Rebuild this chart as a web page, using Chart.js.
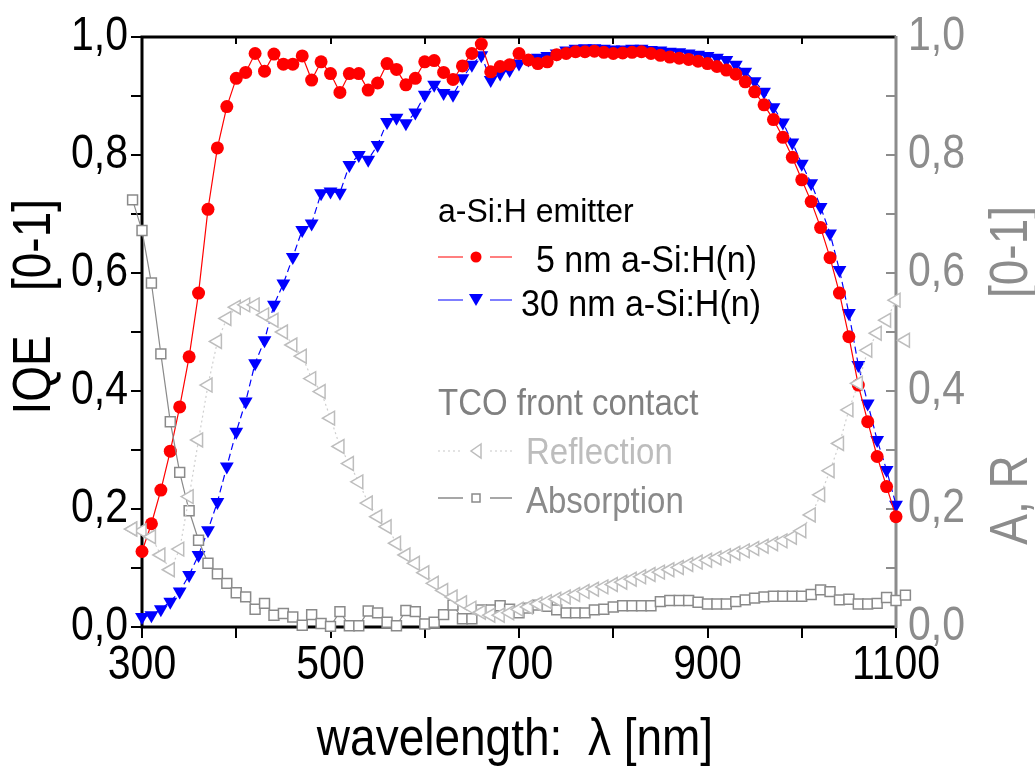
<!DOCTYPE html>
<html>
<head>
<meta charset="utf-8">
<script src="https://cdn.jsdelivr.net/npm/chart.js@4"></script>
<style>
  html, body { margin: 0; padding: 0; background: #fff; overflow: hidden; }
  canvas { display: block; }
</style>
</head>
<body>
<canvas id="iqeChart" width="1035" height="766"></canvas>
<script>
// ---------- dados ----------
const lambdaIQE = [300,310,320,330,340,350,360,370,380,390,400,410,420,430,440,450,460,470,480,490,500,510,520,530,540,550,560,570,580,590,600,610,620,630,640,650,660,670,680,690,700,710,720,730,740,750,760,770,780,790,800,810,820,830,840,850,860,870,880,890,900,910,920,930,940,950,960,970,980,990,1000,1010,1020,1030,1040,1050,1060,1070,1080,1090,1100];

const iqe5nm = [0.128,0.175,0.232,0.298,0.373,0.458,0.566,0.708,0.812,0.882,0.930,0.940,0.972,0.942,0.971,0.954,0.954,0.968,0.927,0.958,0.938,0.906,0.938,0.938,0.910,0.922,0.955,0.945,0.919,0.930,0.958,0.960,0.940,0.928,0.951,0.972,0.988,0.941,0.950,0.953,0.972,0.961,0.955,0.958,0.970,0.972,0.975,0.975,0.976,0.974,0.972,0.973,0.974,0.975,0.972,0.969,0.966,0.964,0.962,0.959,0.955,0.950,0.944,0.937,0.924,0.907,0.885,0.860,0.830,0.796,0.758,0.721,0.677,0.626,0.566,0.492,0.410,0.348,0.289,0.238,0.187];

const iqe30nm = [0.017,0.020,0.030,0.043,0.060,0.088,0.122,0.164,0.212,0.272,0.331,0.382,0.447,0.486,0.546,0.582,0.627,0.673,0.684,0.735,0.738,0.736,0.783,0.800,0.792,0.817,0.856,0.863,0.854,0.872,0.902,0.919,0.905,0.902,0.930,0.953,0.969,0.927,0.938,0.944,0.955,0.962,0.965,0.968,0.972,0.977,0.980,0.981,0.981,0.980,0.979,0.979,0.980,0.980,0.978,0.977,0.975,0.974,0.972,0.970,0.968,0.965,0.961,0.953,0.941,0.925,0.907,0.881,0.855,0.821,0.785,0.752,0.712,0.667,0.605,0.532,0.444,0.379,0.317,0.266,0.207];

const lambdaTCO = [290,300,310,320,330,340,350,360,370,380,390,400,410,420,430,440,450,460,470,480,490,500,510,520,530,540,550,560,570,580,590,600,610,620,630,640,650,660,670,680,690,700,710,720,730,740,750,760,770,780,790,800,810,820,830,840,850,860,870,880,890,900,910,920,930,940,950,960,970,980,990,1000,1010,1020,1030,1040,1050,1060,1070,1080,1090,1100,1110];

const reflexao = [0.166,0.163,0.153,0.122,0.097,0.132,0.221,0.317,0.410,0.484,0.523,0.542,0.546,0.546,0.529,0.520,0.500,0.478,0.459,0.421,0.399,0.354,0.306,0.277,0.246,0.210,0.187,0.170,0.142,0.122,0.108,0.092,0.074,0.062,0.051,0.041,0.032,0.025,0.020,0.020,0.024,0.030,0.034,0.039,0.043,0.047,0.051,0.055,0.060,0.064,0.068,0.072,0.076,0.081,0.085,0.089,0.093,0.097,0.101,0.106,0.110,0.113,0.117,0.121,0.125,0.129,0.133,0.137,0.141,0.146,0.152,0.163,0.190,0.224,0.265,0.311,0.368,0.413,0.469,0.498,0.520,0.554,0.486];

const absorcao = [0.724,0.672,0.583,0.463,0.348,0.262,0.197,0.147,0.108,0.090,0.074,0.058,0.051,0.030,0.040,0.020,0.023,0.017,0.003,0.021,0.006,0.001,0.026,0.002,0.002,0.027,0.024,0.008,0.002,0.028,0.026,0.005,0.008,0.021,0.037,0.014,0.014,0.029,0.029,0.036,0.030,0.024,0.032,0.037,0.035,0.029,0.024,0.024,0.024,0.029,0.030,0.034,0.036,0.036,0.036,0.036,0.043,0.045,0.045,0.045,0.042,0.039,0.039,0.039,0.043,0.046,0.049,0.051,0.052,0.052,0.052,0.052,0.055,0.063,0.060,0.046,0.047,0.039,0.039,0.040,0.050,0.045,0.054];

const yTicks = [0, 0.2, 0.4, 0.6, 0.8, 1.0];
const xTicks = [300, 500, 700, 900, 1100];

// ---------- cores ----------
const VERMELHO = "#ff0000";
const AZUL = "#0000ff";
const CINZA_R = "#bdbdbd";
const CINZA_A = "#8a8a8a";
const CINZA_EIXO = "#8c8c8c";
const FONTE = "'Liberation Sans', Arial, sans-serif";
const ESTICA = 1.15; // o texto original é um pouco "alto"

function pares(xs, ys) {
    return xs.map((x, i) => ({ x: x, y: ys[i] }));
}

function virgula(v) {
    return v.toFixed(1).replace(".", ",");
}

// texto esticado na vertical
function texto(ctx, str, x, y, ang, esticar) {
    ctx.save();
    ctx.translate(x, y);
    if (ang) ctx.rotate(ang);
    ctx.scale(1, esticar);
    ctx.fillText(str, 0, 0);
    ctx.restore();
}

// ---------- moldura, ticks, legenda e títulos ----------
const molduraPlugin = {
    id: "moldura",
    beforeDatasetsDraw(chart) {
        const { ctx, chartArea: a, scales } = chart;
        const x = scales.x, y = scales.y;
        ctx.save();
        ctx.lineCap = "butt";

        // ticks esquerda (para fora)
        ctx.strokeStyle = "#000";
        ctx.lineWidth = 2;
        for (let v = 0; v <= 10; v++) {
            const py = Math.round(y.getPixelForValue(v / 10));
            ctx.beginPath(); ctx.moveTo(a.left - 11, py); ctx.lineTo(a.left, py); ctx.stroke();
        }
        // ticks baixo (para fora) e topo (para dentro)
        for (let v = 300; v <= 1100; v += 100) {
            const px = Math.round(x.getPixelForValue(v));
            ctx.beginPath(); ctx.moveTo(px, a.bottom); ctx.lineTo(px, a.bottom + 11); ctx.stroke();
            ctx.beginPath(); ctx.moveTo(px, a.top); ctx.lineTo(px, a.top + 7); ctx.stroke();
        }
        // ticks direita (para dentro, cinza)
        ctx.strokeStyle = CINZA_EIXO;
        for (let v = 0; v <= 10; v++) {
            const py = Math.round(y.getPixelForValue(v / 10));
            ctx.beginPath(); ctx.moveTo(a.right - 10, py); ctx.lineTo(a.right, py); ctx.stroke();
        }

        // eixos
        ctx.lineWidth = 3;
        ctx.strokeStyle = "#000";
        ctx.beginPath();
        ctx.moveTo(a.right, a.top); ctx.lineTo(a.left, a.top);
        ctx.lineTo(a.left, a.bottom); ctx.lineTo(a.right, a.bottom);
        ctx.stroke();
        ctx.strokeStyle = CINZA_EIXO;
        ctx.beginPath(); ctx.moveTo(a.right, a.top - 1); ctx.lineTo(a.right, a.bottom + 1); ctx.stroke();

        // rótulos dos ticks
        ctx.font = "41px " + FONTE;
        ctx.textBaseline = "middle";
        ctx.textAlign = "center";
        ctx.fillStyle = "#000";
        xTicks.forEach(v => texto(ctx, String(v), x.getPixelForValue(v), 666, 0, ESTICA));
        ctx.textAlign = "right";
        yTicks.forEach(v => texto(ctx, virgula(v), a.left - 14, y.getPixelForValue(v), 0, ESTICA));
        ctx.textAlign = "left";
        ctx.fillStyle = CINZA_EIXO;
        const y2 = scales.y2;
        yTicks.forEach(v => texto(ctx, virgula(v), a.right + 12, y2.getPixelForValue(v), 0, ESTICA));
        ctx.restore();
    },
    afterDatasetsDraw(chart) {
        // pontos fora da área (290 nm e 1110 nm) – o Chart.js não os desenha sozinho
        const { ctx, chartArea: a } = chart;
        chart.getSortedVisibleDatasetMetas().forEach(meta => {
            meta.data.forEach(el => {
                if (el.x < a.left - 2 || el.x > a.right + 2) el.draw(ctx);
            });
        });
    },
    afterDraw(chart) {
        const { ctx } = chart;
        ctx.save();

        // títulos dos eixos
        ctx.textBaseline = "middle";
        ctx.fillStyle = "#000";
        ctx.font = "46px " + FONTE;
        ctx.textAlign = "center";
        texto(ctx, "wavelength:  \u03bb [nm]", 515, 741, 0, 1.12);

        texto(ctx, "IQE", 35, 375, -Math.PI / 2, ESTICA);
        texto(ctx, "[0-1]", 35, 245, -Math.PI / 2, ESTICA);

        ctx.fillStyle = CINZA_EIXO;
        texto(ctx, "A, R", 1012, 500, -Math.PI / 2, ESTICA);
        texto(ctx, "[0-1]", 1012, 252, -Math.PI / 2, ESTICA);

        // legenda
        ctx.textAlign = "left";
        ctx.textBaseline = "alphabetic";
        ctx.font = "32px " + FONTE;
        ctx.fillStyle = "#000";
        texto(ctx, "a-Si:H emitter", 438, 222, 0, 1.05);

        const linhaLegenda = (yy, cor, dash, largura) => {
            ctx.save();
            ctx.strokeStyle = cor;
            ctx.lineWidth = largura;
            ctx.setLineDash(dash);
            ctx.beginPath();
            ctx.moveTo(438, yy); ctx.lineTo(463, yy);
            ctx.moveTo(490, yy); ctx.lineTo(512, yy);
            ctx.stroke();
            ctx.restore();
        };

        // 5 nm
        linhaLegenda(257, VERMELHO, [], 1.2);
        ctx.fillStyle = VERMELHO;
        ctx.beginPath(); ctx.arc(476, 257, 5.5, 0, Math.PI * 2); ctx.fill();
        ctx.fillStyle = "#000";
        ctx.font = "34px " + FONTE;
        texto(ctx, "5 nm a-Si:H(n)", 536, 272, 0, 1.1);

        // 30 nm
        linhaLegenda(300, AZUL, [], 1.2);
        ctx.fillStyle = AZUL;
        ctx.beginPath();
        ctx.moveTo(469, 294); ctx.lineTo(483, 294); ctx.lineTo(476, 306); ctx.closePath();
        ctx.fill();
        ctx.fillStyle = "#000";
        texto(ctx, "30 nm a-Si:H(n)", 521, 316, 0, 1.1);

        // TCO
        ctx.fillStyle = "#808080";
        ctx.font = "33px " + FONTE;
        texto(ctx, "TCO front contact", 438, 415, 0, 1.1);

        linhaLegenda(451, "#c8c8c8", [2, 3], 1.2);
        ctx.strokeStyle = CINZA_R;
        ctx.lineWidth = 1.5;
        ctx.beginPath();
        ctx.moveTo(481, 444); ctx.lineTo(471, 451); ctx.lineTo(481, 458); ctx.closePath();
        ctx.stroke();
        ctx.fillStyle = CINZA_R;
        texto(ctx, "Reflection", 526, 464, 0, 1.1);

        linhaLegenda(498, CINZA_A, [], 1.5);
        ctx.strokeStyle = CINZA_A;
        ctx.strokeRect(472, 494, 8, 8);
        ctx.fillStyle = CINZA_A;
        texto(ctx, "Absorption", 526, 513, 0, 1.1);

        ctx.restore();
    }
};

// ---------- gráfico ----------
const ctx = document.getElementById("iqeChart");

new Chart(ctx, {
    type: "line",
    data: {
        datasets: [
            {
                label: "Reflection",
                data: pares(lambdaTCO, reflexao),
                yAxisID: "y2",
                borderColor: "#cfcfcf",
                borderWidth: 1.2,
                borderDash: [2, 3],
                pointStyle: "triangle",
                rotation: -90,
                pointRadius: 8,
                pointBorderWidth: 1.5,
                pointBorderColor: CINZA_R,
                pointBackgroundColor: "#fff",
                clip: false
            },
            {
                label: "Absorption",
                data: pares(lambdaTCO, absorcao),
                yAxisID: "y2",
                borderColor: CINZA_A,
                borderWidth: 1.2,
                pointStyle: "rect",
                pointRadius: 7,
                pointBorderWidth: 1.5,
                pointBorderColor: CINZA_A,
                pointBackgroundColor: "#fff",
                clip: false
            },
            {
                label: "5 nm a-Si:H(n)",
                data: pares(lambdaIQE, iqe5nm),
                yAxisID: "y",
                borderColor: VERMELHO,
                borderWidth: 1.2,
                pointStyle: "circle",
                pointRadius: 6.5,
                pointBorderWidth: 0,
                pointBackgroundColor: VERMELHO,
                clip: false
            },
            {
                label: "30 nm a-Si:H(n)",
                data: pares(lambdaIQE, iqe30nm),
                yAxisID: "y",
                borderColor: AZUL,
                borderWidth: 1.2,
                borderDash: [7, 4],
                pointStyle: "triangle",
                rotation: 180,
                pointRadius: 8,
                pointBorderWidth: 0,
                pointBackgroundColor: AZUL,
                clip: false
            }
        ]
    },
    options: {
        responsive: false,
        animation: false,
        devicePixelRatio: 1,
        layout: { padding: { top: 37, left: 0, right: 0, bottom: 0 } },
        plugins: {
            legend: { display: false },
            tooltip: { enabled: false }
        },
        elements: { line: { tension: 0 } },
        scales: {
            x: {
                type: "linear",
                min: 300,
                max: 1100,
                afterBuildTicks: (s) => { s.ticks = xTicks.map(v => ({ value: v })); },
                afterFit: (s) => { s.height = 139; },
                grid: { display: false },
                border: { display: false },
                ticks: { display: false }
            },
            y: {
                position: "left",
                min: 0,
                max: 1,
                afterBuildTicks: (s) => { s.ticks = yTicks.map(v => ({ value: v })); },
                afterFit: (s) => { s.width = 142; },
                grid: { display: false },
                border: { display: false },
                ticks: { display: false }
            },
            y2: {
                position: "right",
                min: 0,
                max: 1,
                afterBuildTicks: (s) => { s.ticks = yTicks.map(v => ({ value: v })); },
                afterFit: (s) => { s.width = 139; },
                grid: { display: false },
                border: { display: false },
                ticks: { display: false }
            }
        }
    },
    plugins: [molduraPlugin]
});
</script>
</body>
</html>
